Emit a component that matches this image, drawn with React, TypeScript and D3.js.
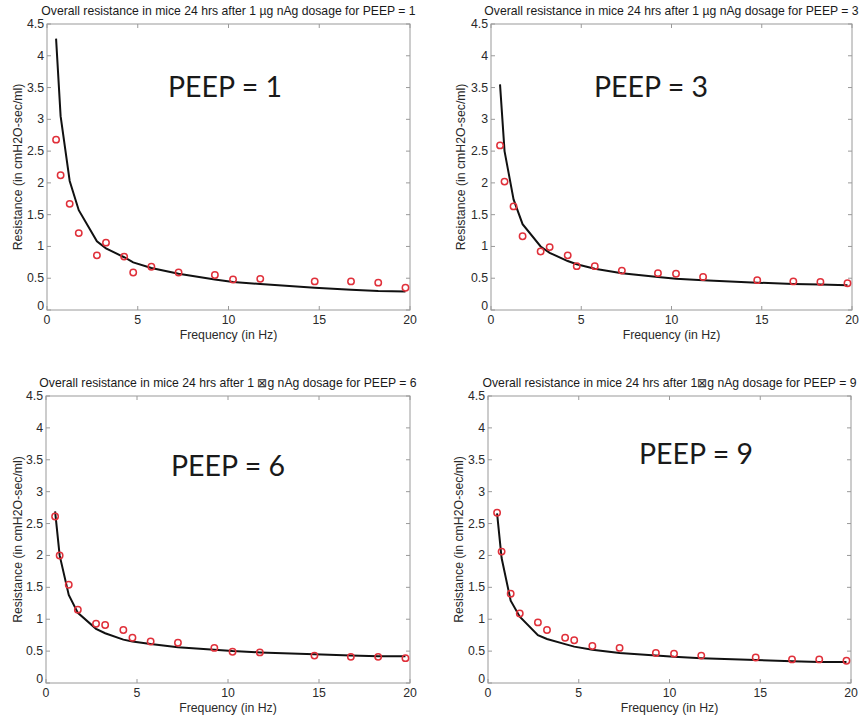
import React from "react";
import * as d3 from "d3";

const freq = [0.5, 0.75, 1.25, 1.75, 2.75, 3.25, 4.25, 4.75, 5.75, 7.25, 9.25, 10.25, 11.75, 14.75, 16.75, 18.25, 19.75];

const titles = [
  "Overall resistance in mice 24 hrs after 1 \u00b5g nAg dosage for PEEP = 1",
  "Overall resistance in mice 24 hrs after 1 \u00b5g nAg dosage for PEEP = 3",
  "Overall resistance in mice 24 hrs after 1 \u22a0g nAg dosage for PEEP = 6",
  "Overall resistance in mice 24 hrs after 1\u22a0g nAg dosage for PEEP = 9",
];
const peepLabels = ["PEEP = 1", "PEEP = 3", "PEEP = 6", "PEEP = 9"];

const measured1 = [2.68, 2.12, 1.67, 1.21, 0.86, 1.06, 0.84, 0.59, 0.68, 0.59, 0.55, 0.48, 0.49, 0.45, 0.45, 0.43, 0.35];
const fitted1 = [4.27, 3.05, 2.03, 1.57, 1.08, 0.97, 0.83, 0.75, 0.66, 0.57, 0.48, 0.44, 0.41, 0.35, 0.32, 0.30, 0.29];
const measured3 = [2.59, 2.02, 1.63, 1.16, 0.92, 0.99, 0.86, 0.69, 0.69, 0.62, 0.58, 0.57, 0.52, 0.47, 0.45, 0.44, 0.42];
const fitted3 = [3.55, 2.5, 1.74, 1.35, 1.0, 0.9, 0.77, 0.72, 0.65, 0.58, 0.52, 0.49, 0.47, 0.43, 0.41, 0.40, 0.39];
const measured6 = [2.61, 2.0, 1.54, 1.15, 0.93, 0.91, 0.83, 0.71, 0.65, 0.63, 0.55, 0.49, 0.48, 0.43, 0.41, 0.41, 0.39];
const fitted6 = [2.69, 2.0, 1.38, 1.1, 0.85, 0.78, 0.68, 0.65, 0.61, 0.56, 0.52, 0.50, 0.48, 0.45, 0.43, 0.42, 0.42];
const measured9 = [2.67, 2.06, 1.40, 1.09, 0.95, 0.83, 0.71, 0.67, 0.58, 0.55, 0.47, 0.46, 0.43, 0.40, 0.37, 0.37, 0.35];
const fitted9 = [2.66, 1.96, 1.29, 1.04, 0.75, 0.69, 0.61, 0.57, 0.52, 0.47, 0.43, 0.41, 0.39, 0.36, 0.34, 0.33, 0.33];

const xTicks = [0, 5, 10, 15, 20];
const yTicks = [0, 0.5, 1, 1.5, 2, 2.5, 3, 3.5, 4, 4.5];

const measuredAll = [measured1, measured3, measured6, measured9];
const fittedAll = [fitted1, fitted3, fitted6, fitted9];

// layout of panels: plot box [left, right, top, bottom], PEEP label position
const boxes = [
  { l: 47, r: 410, t: 24, b: 310, px: 168, py: 97, ylx: 17 },
  { l: 491, r: 852, t: 24, b: 310, px: 594, py: 97, ylx: 460 },
  { l: 46, r: 410, t: 396, b: 683, px: 171, py: 476, ylx: 17 },
  { l: 488, r: 851, t: 396, b: 683, px: 639, py: 464, ylx: 458 },
];

const font = "'Liberation Sans', Arial, sans-serif";

function Panel({ idx }: { idx: number }) {
  const bx = boxes[idx];
  const x = d3.scaleLinear().domain([0, 20]).range([bx.l, bx.r]);
  const y = d3.scaleLinear().domain([0, 4.5]).range([bx.b, bx.t]);
  const meas = measuredAll[idx];
  const fit = fittedAll[idx];
  const line = d3
    .line<number>()
    .x((_, i) => x(freq[i]))
    .y((d) => y(d));
  const tickLen = 4;
  const axisColor = "#9a9a9a";
  const textColor = "#2a2a2a";
  return (
    <g>
      <text
        x={(bx.l + bx.r) / 2}
        y={bx.t - 9}
        textAnchor="middle"
        fontFamily={font}
        fontSize={12.2}
        fill="#1a1a1a"
      >
        {titles[idx]}
      </text>
      <rect x={bx.l} y={bx.t} width={bx.r - bx.l} height={bx.b - bx.t} fill="white" stroke={axisColor} strokeWidth={1} />
      {xTicks.map((t) => (
        <g key={"x" + t}>
          <line x1={x(t)} x2={x(t)} y1={bx.b} y2={bx.b - tickLen} stroke={axisColor} />
          <line x1={x(t)} x2={x(t)} y1={bx.t} y2={bx.t + tickLen} stroke={axisColor} />
          <text x={x(t)} y={bx.b + 14} textAnchor="middle" fontFamily={font} fontSize={12.3} fill={textColor}>
            {t}
          </text>
        </g>
      ))}
      {yTicks.map((t) => (
        <g key={"y" + t}>
          <line x1={bx.l} x2={bx.l + tickLen} y1={y(t)} y2={y(t)} stroke={axisColor} />
          <line x1={bx.r} x2={bx.r - tickLen} y1={y(t)} y2={y(t)} stroke={axisColor} />
          <text
            x={bx.l - 3}
            y={y(t) + (t === 0 ? 0 : 4)}
            textAnchor="end"
            fontFamily={font}
            fontSize={12.3}
            fill={textColor}
          >
            {t}
          </text>
        </g>
      ))}
      <text
        x={(bx.l + bx.r) / 2}
        y={bx.b + 29}
        textAnchor="middle"
        fontFamily={font}
        fontSize={12.3}
        fill={textColor}
      >
        Frequency (in Hz)
      </text>
      <text
        transform={`translate(${bx.ylx + 5},${(bx.t + bx.b) / 2}) rotate(-90)`}
        textAnchor="middle"
        fontFamily={font}
        fontSize={12.3}
        fill={textColor}
      >
        Resistance (in cmH2O-sec/ml)
      </text>
      <path d={line(fit) || ""} fill="none" stroke="#111" strokeWidth={2} />
      {meas.map((v, i) => (
        <circle key={i} cx={x(freq[i])} cy={y(v)} r={3.2} fill="none" stroke="#e0303a" strokeWidth={1.5} />
      ))}
      <text x={bx.px} y={bx.py} fontFamily="Lato, 'Open Sans', sans-serif" fontSize={28.5} fill="#1a1a1a">
        {peepLabels[idx]}
      </text>
    </g>
  );
}

export default function App() {
  return (
    <svg width={861} height={717} style={{ position: "absolute", left: 0, top: 0, background: "white" }}>
      <rect width={861} height={717} fill="white" />
      {[0, 1, 2, 3].map((i) => (
        <Panel key={i} idx={i} />
      ))}
    </svg>
  );
}
